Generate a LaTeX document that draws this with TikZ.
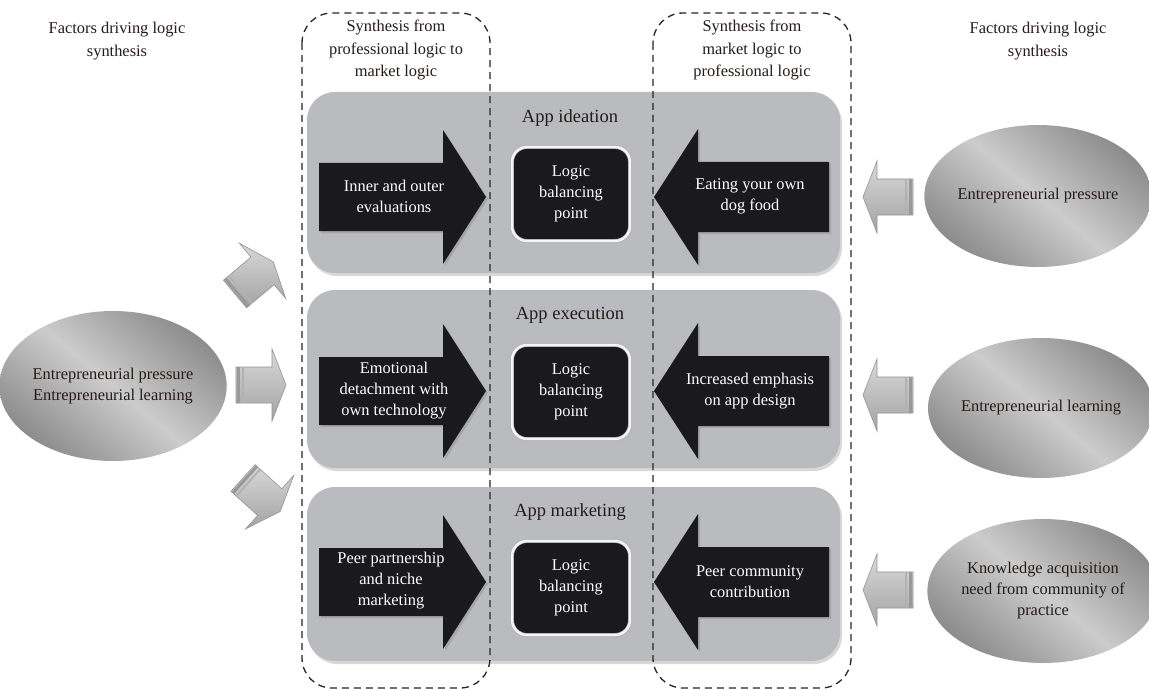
\documentclass[tikz,border=0pt]{standalone}
\usepackage{fontspec}
\setmainfont{Liberation Serif}
\usetikzlibrary{shadows,shapes.geometric}
\definecolor{panelgray}{RGB}{186,187,191}
\definecolor{arrowblack}{RGB}{26,26,28}
\definecolor{txtdark}{RGB}{36,28,24}
\tikzset{
  base/.style={font=\fontsize{16.4}{21}\selectfont, align=center, inner sep=0pt, text=txtdark},
  heading/.style={base, font=\fontsize{16.4}{22.5}\selectfont},
  paneltitle/.style={base, font=\fontsize{18.5}{22}\selectfont},
  panel/.style={fill=panelgray, rounded corners=28pt,
    drop shadow={shadow xshift=2pt, shadow yshift=-3pt, opacity=0.3}},
  blackarrow/.style={fill=arrowblack,
    drop shadow={shadow xshift=2pt, shadow yshift=-2pt, opacity=0.35}},
  atext/.style={base, text=white},
  logicbox/.style={base, text=white, fill=arrowblack, rounded corners=15pt,
    minimum width=118pt, minimum height=94pt,
    draw=gray!60, double=gray!8, double distance=2.4pt, line width=0.7pt},
  dashbox/.style={draw=black!85, line width=1.3pt, dash pattern=on 7pt off 5pt, rounded corners=30pt},
  factor/.style={base, ellipse, draw=none, top color=gray!90, bottom color=gray!90,
    middle color=gray!40, shading angle=-40},
  garrow/.pic={
    \shadedraw[draw=gray!85, line width=0.6pt, top color=gray!30, bottom color=gray!72]
      (0,-18) -- (36,-18) -- (36,-36) -- (50,0) -- (36,36) -- (36,18) -- (0,18) -- cycle;
    \fill[gray!80] (1,-18) rectangle (4,18);
    \fill[gray!60] (6,-18) rectangle (8,18);
  }
}
\begin{document}
\begin{tikzpicture}[x=1pt,y=-1pt]
\useasboundingbox (0,0) rectangle (1149,690);
\fill[white] (0,0) rectangle (1149,690);

% panels
\path[panel] (307,92) rectangle (840,273);
\path[panel] (307,290) rectangle (840,468);
\path[panel] (307,487) rectangle (840,661);

% black arrows
\foreach \c in {197,391,582}{
  \path[blackarrow] (319,\c-34) -- (443,\c-34) -- (443,\c-67) -- (486,\c) -- (443,\c+67) -- (443,\c+34) -- (319,\c+34) -- cycle;
  \path[blackarrow] (829,\c-35) -- (698,\c-35) -- (698,\c-68) -- (654,\c) -- (698,\c+68) -- (698,\c+35) -- (829,\c+35) -- cycle;
}

% panel titles
\node[paneltitle] (t1) at (570,118) {App ideation};
\node[paneltitle] (t2) at (570,315) {App execution};
\node[paneltitle] (t3) at (570,512) {App marketing};

% logic balancing points
\node[logicbox] (lb1) at (571,194) {Logic\\balancing\\point};
\node[logicbox] (lb2) at (571,392) {Logic\\balancing\\point};
\node[logicbox] (lb3) at (571,588) {Logic\\balancing\\point};

% arrow texts
\node[atext] (r1) at (394,196) {Inner and outer\\evaluations};
\node[atext] (r2) at (394,391) {Emotional\\detachment with\\own technology};
\node[atext] (r3) at (391,581) {Peer partnership\\and niche\\marketing};
\node[atext] (l1) at (750,196) {Eating your own\\dog food};
\node[atext] (l2) at (750,391) {Increased emphasis\\on app design};
\node[atext] (l3) at (750,582) {Peer community\\contribution};

% dashed boxes
\draw[dashbox] (302,13) rectangle (490,688);
\draw[dashbox] (653,13) rectangle (851,688);

% headings
\node[heading] (h1) at (396,50) {Synthesis from\\professional logic to\\market logic};
\node[heading] (h2) at (752,50) {Synthesis from\\market logic to\\professional logic};
\node[heading] (f1) at (117,41) {Factors driving logic\\synthesis};
\node[heading] (f2) at (1038,41) {Factors driving logic\\synthesis};

% factor ellipses
\node[factor, minimum width=210pt, minimum height=150pt] (eL) at (113,386) {Entrepreneurial pressure\\Entrepreneurial learning};
\node[factor, minimum width=213pt, minimum height=142pt] (e1) at (1038,196) {Entrepreneurial pressure};
\node[factor, minimum width=212pt, minimum height=140pt] (e2) at (1041,408) {Entrepreneurial learning};
\node[factor, minimum width=210pt, minimum height=144pt] (e3) at (1043,591) {Knowledge acquisition\\need from community of\\practice};

% gray block arrows
\pic[rotate=180] at (913,197) {garrow};
\pic[rotate=180] at (913,395) {garrow};
\pic[rotate=180] at (913,590) {garrow};
\pic at (236,385) {garrow};
\pic[rotate=40] at (235,294) {garrow};
\pic[rotate=-42] at (243,478) {garrow};
\end{tikzpicture}
\end{document}
